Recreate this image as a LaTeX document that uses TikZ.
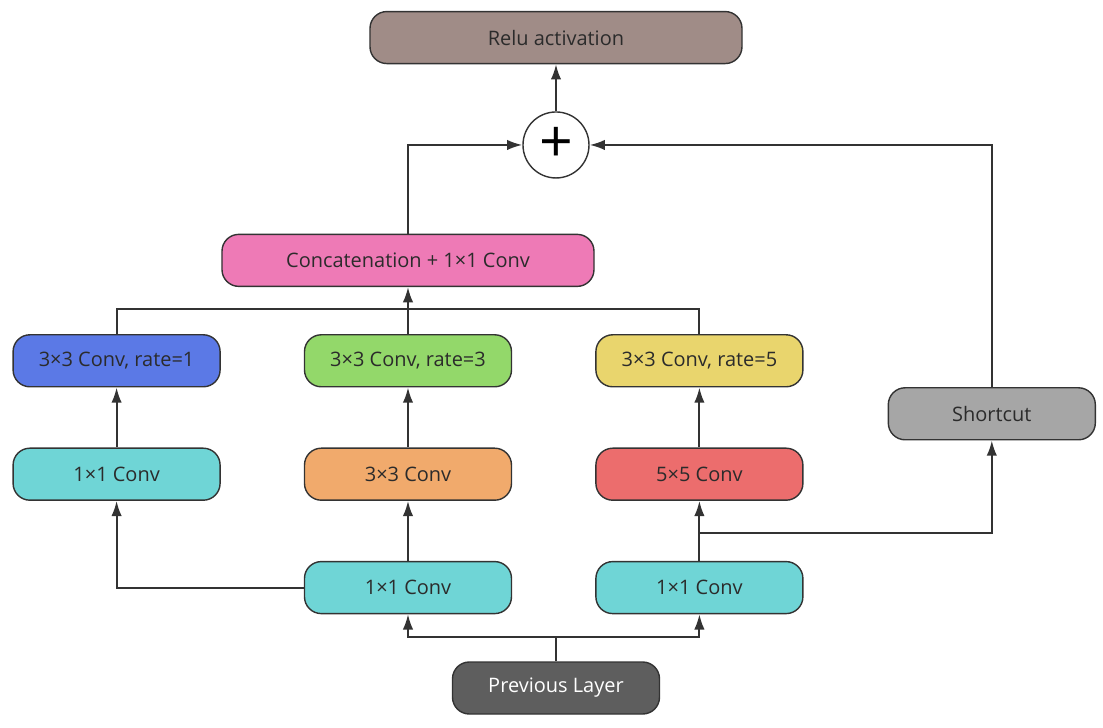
\documentclass[tikz,border=0pt]{standalone}
\usepackage{fontspec}
\setmainfont{Open Sans}
\usetikzlibrary{arrows.meta,positioning,calc}
\definecolor{edge}{HTML}{333333}
\definecolor{inktxt}{HTML}{2B2B2B}
\definecolor{relufill}{HTML}{A08C87}
\definecolor{catfill}{HTML}{EE7AB6}
\definecolor{bluefill}{HTML}{5B79E6}
\definecolor{greenfill}{HTML}{93D86A}
\definecolor{yellowfill}{HTML}{E9D56D}
\definecolor{cyanfill}{HTML}{6FD5D6}
\definecolor{orangefill}{HTML}{F1AA6C}
\definecolor{redfill}{HTML}{EC6D6D}
\definecolor{shortfill}{HTML}{A6A6A6}
\definecolor{prevfill}{HTML}{5E5E5E}
\tikzset{
  block/.style    ={rounded corners=0.42cm,draw=edge,line width=1pt,
                    minimum width=5.175cm,minimum height=1.3cm,inner sep=2pt,
                    align=center,text=inktxt,font=\fontsize{14.2}{17}\selectfont},
  wideblock/.style={block,minimum width=9.3cm},
  sumnode/.style  ={circle,draw=edge,line width=1pt,fill=white,minimum size=1.65cm,
                    inner sep=0pt,font=\fontsize{42}{42}\selectfont},
  flow/.style     ={-{Latex[length=3.8mm,width=2.6mm]},line width=1.4pt,draw=edge},
  link/.style     ={line width=1.4pt,draw=edge}
}
\begin{document}
\begin{tikzpicture}[node distance=2.075cm]
  \useasboundingbox (-13.9,-0.975) rectangle (13.675,17.2);
  % input and first 1x1 layer
  \node[block,fill=prevfill,text=white] (prev) at (0,0) {Previous Layer};
  \node[block,fill=cyanfill,above=1.175cm of prev,xshift=-3.7cm] (b2) {1×1 Conv};
  \node[block,fill=cyanfill,right=of b2] (b3) {1×1 Conv};
  % second layer
  \node[block,fill=orangefill,above=1.5cm of b2] (c2) {3×3 Conv};
  \node[block,fill=cyanfill,left=of c2] (c1) {1×1 Conv};
  \node[block,fill=redfill,right=of c2] (c3) {5×5 Conv};
  % atrous convs
  \node[block,fill=bluefill,above=1.5cm of c1] (r1) {3×3 Conv, rate=1};
  \node[block,fill=greenfill,above=1.5cm of c2] (r2) {3×3 Conv, rate=3};
  \node[block,fill=yellowfill,above=1.5cm of c3] (r3) {3×3 Conv, rate=5};
  \node[block,fill=shortfill,right=2.1cm of r3,yshift=-1.325cm] (sc) {Shortcut};
  % fuse
  \node[wideblock,fill=catfill,above=1.175cm of r2] (cat) {Concatenation + 1×1 Conv};
  \node[sumnode,above=1.375cm of cat,xshift=3.7cm] (sum) {+};
  \node[wideblock,fill=relufill,above=1.175cm of sum] (relu) {Relu activation};

  \coordinate (split) at ($(prev.north)+(0,0.6)$);
  \coordinate (tap) at ($(b3.north)+(0,0.7)$);
  \draw[link] (prev.north) -- (split);
  \draw[flow] (split) -| (b2.south);
  \draw[flow] (split) -| (b3.south);
  \draw[flow] (b2.west) -| (c1.south);
  \draw[flow] (b2) -- (c2);
  \draw[flow] (b3) -- (c3);
  \draw[flow] (tap) -| (sc.south);
  \draw[flow] (c1) -- (r1);
  \draw[flow] (c2) -- (r2);
  \draw[flow] (c3) -- (r3);
  \draw[link] (r1.north) -- ++(0,0.625) -| (r3.north);
  \draw[flow] (r2) -- (cat);
  \draw[flow] (cat.north) |- (sum.west);
  \draw[flow] (sc.north) |- (sum.east);
  \draw[flow] (sum) -- (relu);
\end{tikzpicture}
\end{document}
